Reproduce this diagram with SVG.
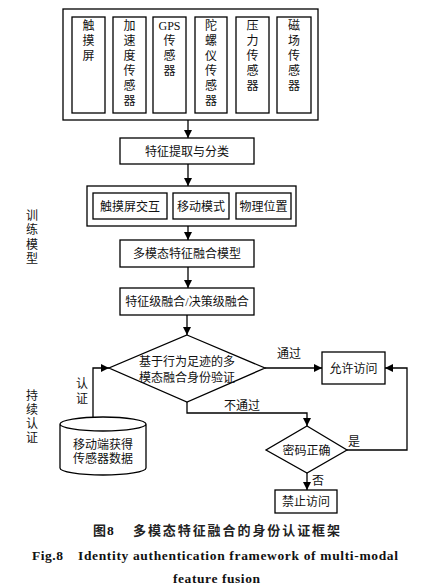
<svg xmlns="http://www.w3.org/2000/svg" width="439" height="588" viewBox="0 0 439 588">
<defs>
<marker id="ah" viewBox="0 0 10 10" refX="10" refY="5" markerWidth="8" markerHeight="8" markerUnits="userSpaceOnUse" orient="auto"><path d="M0,0 L10,5 L0,10 z" fill="#000"/></marker>
<style>
.b{fill:#fff;stroke:#000;stroke-width:1.3}
.t{font-family:"Liberation Serif","Noto Sans CJK SC",serif;font-size:12px;fill:#111;text-anchor:middle}
.l{fill:none;stroke:#000;stroke-width:1.3}
.cap{font-family:"Noto Sans CJK SC",sans-serif;font-size:13px;font-weight:bold;fill:#222}
.en{font-family:"Liberation Serif",serif;font-size:13.5px;font-weight:bold;fill:#111}
</style>
</defs>
<rect width="439" height="588" fill="#fff"/>
<g id="sensors">
<rect class="b" x="63" y="9" width="255" height="111"/>
<rect class="b" x="72" y="17" width="33" height="96"/>
<rect class="b" x="113" y="17" width="33" height="96"/>
<rect class="b" x="153" y="17" width="33" height="96"/>
<rect class="b" x="195" y="17" width="32" height="96"/>
<rect class="b" x="236" y="17" width="33" height="96"/>
<rect class="b" x="277" y="17" width="34" height="96"/>
<text class="t"><tspan x="88.5" y="30">触</tspan><tspan x="88.5" y="45">摸</tspan><tspan x="88.5" y="60">屏</tspan></text>
<text class="t"><tspan x="129.5" y="30">加</tspan><tspan x="129.5" y="45">速</tspan><tspan x="129.5" y="60">度</tspan><tspan x="129.5" y="75">传</tspan><tspan x="129.5" y="90">感</tspan><tspan x="129.5" y="105">器</tspan></text>
<text class="t"><tspan x="169.5" y="30">GPS</tspan><tspan x="169.5" y="45">传</tspan><tspan x="169.5" y="60">感</tspan><tspan x="169.5" y="75">器</tspan></text>
<text class="t"><tspan x="211" y="30">陀</tspan><tspan x="211" y="45">螺</tspan><tspan x="211" y="60">仪</tspan><tspan x="211" y="75">传</tspan><tspan x="211" y="90">感</tspan><tspan x="211" y="105">器</tspan></text>
<text class="t"><tspan x="252.5" y="30">压</tspan><tspan x="252.5" y="45">力</tspan><tspan x="252.5" y="60">传</tspan><tspan x="252.5" y="75">感</tspan><tspan x="252.5" y="90">器</tspan></text>
<text class="t"><tspan x="294" y="30">磁</tspan><tspan x="294" y="45">场</tspan><tspan x="294" y="60">传</tspan><tspan x="294" y="75">感</tspan><tspan x="294" y="90">器</tspan></text>
</g>
<g id="extract">
<rect class="b" x="120" y="138" width="134" height="26"/>
<text class="t" x="187" y="155.5">特征提取与分类</text>
</g>
<g id="features">
<rect class="b" x="87" y="186" width="209" height="40"/>
<rect class="b" x="93" y="193" width="74" height="26"/>
<rect class="b" x="173" y="193" width="56" height="26"/>
<rect class="b" x="236" y="193" width="55" height="26"/>
<text class="t" x="130" y="210.5">触摸屏交互</text>
<text class="t" x="201" y="210.5">移动模式</text>
<text class="t" x="263.5" y="210.5">物理位置</text>
</g>
<g id="model">
<rect class="b" x="120" y="240" width="134" height="27"/>
<text class="t" x="187" y="258">多模态特征融合模型</text>
</g>
<g id="fusion">
<rect class="b" x="120" y="288" width="134" height="27"/>
<text class="t" x="187" y="306">特征级融合/决策级融合</text>
</g>
<g id="verify">
<polygon class="b" points="187,335 265,368 187,402 109,368"/>
<text class="t" x="187" y="366">基于行为足迹的多</text>
<text class="t" x="187" y="382">模态融合身份验证</text>
</g>
<g id="allow">
<rect class="b" x="322" y="352" width="63" height="32"/>
<text class="t" x="353.5" y="372.5">允许访问</text>
</g>
<g id="password">
<polygon class="b" points="307,426 347,450 307,473 266,450"/>
<text class="t" x="306.5" y="454.5">密码正确</text>
</g>
<g id="deny">
<rect class="b" x="275" y="490" width="62" height="23"/>
<text class="t" x="306" y="506">禁止访问</text>
</g>
<g id="data">
<path class="b" d="M60,424 L60,468 A43,7 0 0 0 146,468 L146,424 A43,7 0 0 0 60,424 A43,7 0 0 0 146,424"/>
<text class="t" x="103" y="449">移动端获得</text>
<text class="t" x="103" y="463">传感器数据</text>
</g>
<g id="labels">
<text class="t"><tspan x="32" y="219.5">训</tspan><tspan x="32" y="234">练</tspan><tspan x="32" y="248.5">模</tspan><tspan x="32" y="263">型</tspan></text>
<text class="t"><tspan x="32" y="399.5">持</tspan><tspan x="32" y="413.5">续</tspan><tspan x="32" y="427.5">认</tspan><tspan x="32" y="441.5">证</tspan></text>
</g>
<g id="connectors">
<line class="l" x1="188" y1="120" x2="188" y2="138" marker-end="url(#ah)"/>
<line class="l" x1="188" y1="164" x2="188" y2="186" marker-end="url(#ah)"/>
<line class="l" x1="188" y1="226" x2="188" y2="240" marker-end="url(#ah)"/>
<line class="l" x1="188" y1="267" x2="188" y2="288" marker-end="url(#ah)"/>
<line class="l" x1="187" y1="315" x2="187" y2="335" marker-end="url(#ah)"/>
<line class="l" x1="265" y1="368" x2="322" y2="368" marker-end="url(#ah)"/>
<polyline class="l" points="187,402 187,413 307,413 307,426" marker-end="url(#ah)"/>
<polyline class="l" points="347,450 407,450 407,368 385,368" marker-end="url(#ah)"/>
<line class="l" x1="307" y1="473" x2="307" y2="490" marker-end="url(#ah)"/>
<polyline class="l" points="93,417 93,368 109,368" marker-end="url(#ah)"/>
<text class="t" x="289" y="357.5">通过</text>
<text class="t" x="242" y="410">不通过</text>
<text class="t" x="354" y="446">是</text>
<text class="t" x="318" y="484.5">否</text>
<text class="t"><tspan x="82" y="387.5">认</tspan><tspan x="82" y="402.5">证</tspan></text>
</g>
<text class="cap"><tspan x="93" y="535">图</tspan><tspan class="en" x="107" y="535">8</tspan></text>
<text class="cap" x="133" y="535" textLength="207" lengthAdjust="spacing">多模态特征融合的身份认证框架</text>
<text class="en" x="32" y="560" textLength="31" lengthAdjust="spacing">Fig.8</text>
<text class="en" x="78" y="560" textLength="320" lengthAdjust="spacing">Identity authentication framework of multi-modal</text>
<text class="en" x="173" y="583" textLength="87" lengthAdjust="spacing">feature fusion</text>
</svg>
